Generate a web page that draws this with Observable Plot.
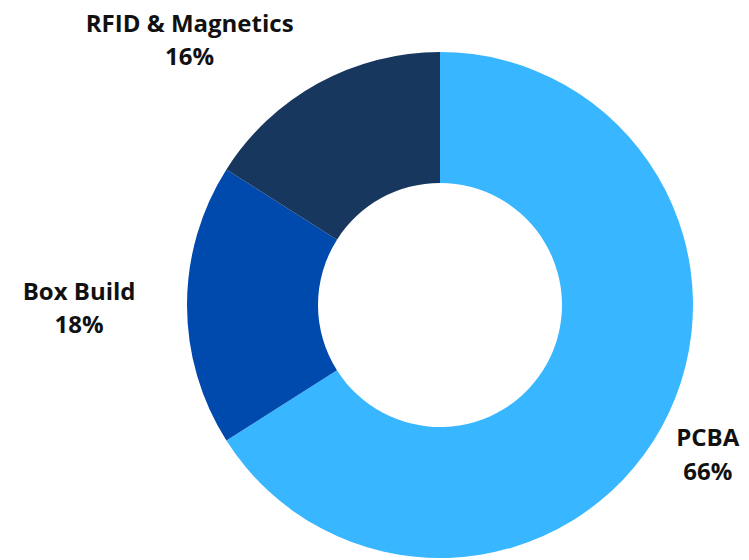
<!DOCTYPE html>
<html><head><meta charset="utf-8">
<script src="https://cdn.jsdelivr.net/npm/d3@7"></script>
<script src="https://cdn.jsdelivr.net/npm/@observablehq/plot@0.6"></script>
<style>body{margin:0;background:#fff}</style>
</head><body><div id="chart"></div>
<script>
const categories = ["PCBA", "Box Build", "RFID & Magnetics"];
const shares = [66, 18, 16];
const colors = ["#38B6FF", "#004AAD", "#17375E"];

const W = 749, H = 560, cx = 440, cy = 305, R = 253, r0 = 122, labelR = 305;
const fontFamily = "'Open Sans', sans-serif";
const fontSize = 24;

const rows = categories.map((c, i) => ({category: c, value: shares[i], color: colors[i]}));
const pie = d3.pie().sort(null).value(d => d.value)(rows);

const ctx = document.createElement("canvas").getContext("2d");
ctx.font = `bold ${fontSize}px ${fontFamily}`;
const labels = pie.map(p => {
  const a = (p.startAngle + p.endAngle) / 2;
  const text = `${p.data.category}\n${p.data.value}%`;
  const w = d3.max(text.split("\n"), t => ctx.measureText(t).width);
  const px = cx + labelR * Math.sin(a), py = cy - labelR * Math.cos(a);
  return {text, x: Math.sin(a) < 0 ? px - w / 2 : px, y: py};
});

function donut(index, scales) {
  const arc = d3.arc().innerRadius(r0).outerRadius(R);
  const g = d3.create("svg:g").attr("transform", `translate(${scales.x(cx)},${scales.y(cy)})`);
  g.selectAll("path").data(pie).join("path").attr("d", arc).attr("fill", d => d.data.color);
  return g.node();
}

const chart = Plot.plot({
  width: W, height: H,
  margin: 0,
  x: {domain: [0, W], range: [0, W], axis: null},
  y: {domain: [0, H], range: [0, H], axis: null},
  style: {fontFamily, background: "#fff"},
  marks: [
    donut,
    Plot.text(labels, {x: "x", y: "y", text: "text", fontSize, fontWeight: "bold", lineHeight: 1.38, fill: "#111", textAnchor: "middle"})
  ]
});
document.getElementById("chart").appendChild(chart);
</script>
</body></html>
